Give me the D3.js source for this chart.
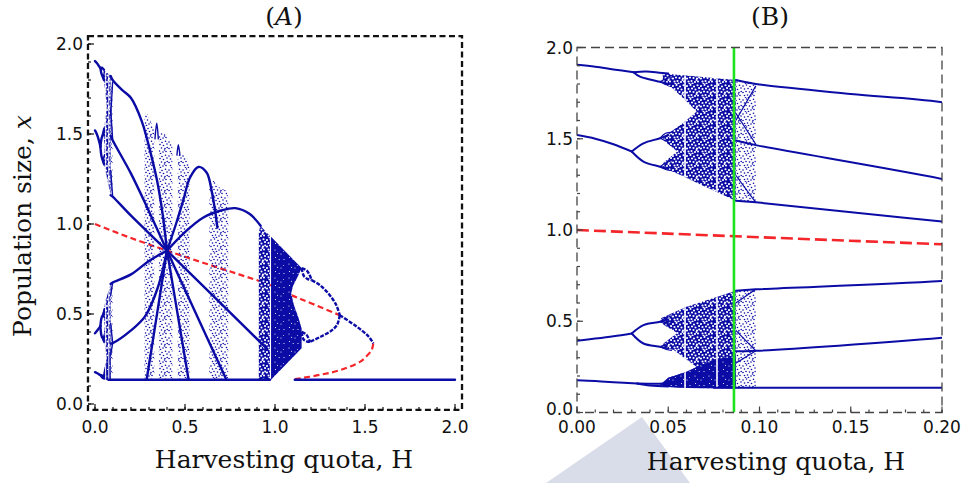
<!DOCTYPE html>
<html>
<head>
<meta charset="utf-8">
<script src="https://cdn.jsdelivr.net/npm/d3@7"></script>
<style>
  body { margin: 0; background: #fff; }
</style>
</head>
<body>
<svg id="chart" width="962" height="483"></svg>
<script>
// ---- data: [H, x] pairs ----

// period-4 branches before the first doubling, and their doublings
const p4Top = [[0, 1.905], [0.01, 1.895], [0.02, 1.88], [0.031, 1.865]];
const p4TopUp = [[0.031, 1.865], [0.038, 1.868], [0.045, 1.862], [0.05, 1.857]];
const p4TopDn = [[0.031, 1.865], [0.0345, 1.84], [0.04, 1.825], [0.0455, 1.812], [0.05, 1.80]];
const p4Mid = [[0, 1.52], [0.01, 1.50], [0.02, 1.47], [0.03, 1.43]];
const p4MidUp = [[0.03, 1.43], [0.0364, 1.475], [0.0455, 1.503], [0.05, 1.52]];
const p4MidDn = [[0.03, 1.43], [0.0364, 1.375], [0.0455, 1.347], [0.05, 1.335]];
const p4Low = [[0, 0.393], [0.01, 0.405], [0.02, 0.418], [0.03, 0.433]];
const p4LowUp = [[0.03, 0.433], [0.0364, 0.479], [0.0455, 0.497], [0.05, 0.51]];
const p4LowDn = [[0.03, 0.433], [0.0364, 0.378], [0.0455, 0.36], [0.05, 0.35]];
const p4Bot = [[0, 0.177], [0.01, 0.172], [0.02, 0.166], [0.033, 0.159]];
const p4BotUp = [[0.033, 0.159], [0.045, 0.158], [0.05, 0.16]];
const p4BotDn = [[0.033, 0.159], [0.04, 0.148], [0.05, 0.142]];

// second doublings (small eyes near H = 0.045)
const pd2Loops = [
  [[0.0455, 1.812], [0.049, 1.83], [0.052, 1.835]], [[0.0455, 1.812], [0.049, 1.80], [0.052, 1.795]],
  [[0.0455, 1.503], [0.0485, 1.53], [0.052, 1.535]], [[0.0455, 1.503], [0.049, 1.49], [0.052, 1.50]],
  [[0.0455, 1.347], [0.049, 1.37], [0.052, 1.38]], [[0.0455, 1.347], [0.049, 1.33], [0.052, 1.325]],
  [[0.0455, 0.497], [0.049, 0.52], [0.052, 0.53]], [[0.0455, 0.497], [0.049, 0.485], [0.052, 0.49]],
  [[0.0455, 0.36], [0.049, 0.375], [0.052, 0.385]], [[0.0455, 0.36], [0.049, 0.345], [0.052, 0.34]]
];

// period-6 window, all branches meeting at H = 0.4
const p6a = [[0.087, 1.822], [0.098, 1.80], [0.15, 1.745], [0.2, 1.70], [0.26, 1.57], [0.315, 1.37], [0.345, 1.24], [0.375, 1.06], [0.4, 0.852]];
const p6b = [[0.087, 1.49], [0.098, 1.465], [0.2, 1.28], [0.3, 1.07], [0.4, 0.852]];
const p6c = [[0.087, 1.16], [0.098, 1.152], [0.2, 1.046], [0.4, 0.852], [0.954, 0.308]];
const p6d = [[0.087, 0.667], [0.098, 0.675], [0.2, 0.72], [0.3, 0.795], [0.4, 0.852]];
const p6e = [[0.087, 0.335], [0.098, 0.338], [0.2, 0.409], [0.28, 0.49], [0.35, 0.65], [0.4, 0.852]];
const floorLeft = [[0.075, 0.135], [0.972, 0.135]];
const floorRight = [[1.11, 0.135], [2.0, 0.135]];

// branches leaving the crossing at H = 0.4
const arcMid = [[0.4, 0.852], [0.45, 1.0], [0.49, 1.13], [0.528, 1.258], [0.574, 1.317], [0.62, 1.286], [0.648, 1.184], [0.667, 1.074], [0.68, 0.98]];
const arcLow = [[0.4, 0.852], [0.5, 0.955], [0.6, 1.035], [0.7, 1.075], [0.78, 1.088], [0.86, 1.055], [0.92, 0.99]];
const rayIn = [[0.287, 0.135], [0.4, 0.852]];
const rayOut1 = [[0.4, 0.852], [0.52, 0.135]];
const rayOut2 = [[0.4, 0.852], [0.73, 0.135]];
const spikes = [
  [[0.333, 1.47], [0.343, 1.56], [0.352, 1.47]],
  [[0.455, 1.38], [0.463, 1.44], [0.472, 1.38]]
];

// lines inside the sparse strip after the window opens
const ghostLines = [
  [[0.087, 1.60], [0.098, 1.79]], [[0.087, 1.64], [0.098, 1.47]], [[0.087, 1.30], [0.098, 1.15]],
  [[0.087, 0.60], [0.098, 0.675]], [[0.087, 0.27], [0.098, 0.338]], [[0.087, 0.45], [0.098, 0.338]]
];

// fixed point and the reversed doubling cascade on the right
const fixedUnstable = [[0, 1.0], [0.2, 0.922], [0.4, 0.852], [0.6, 0.785], [0.8, 0.72], [0.954, 0.668], [1.092, 0.604], [1.2, 0.56], [1.36, 0.493]];
const fixedStable = [[1.36, 0.493], [1.454, 0.43], [1.52, 0.375], [1.546, 0.337]];
const foldUnstable = [[1.546, 0.337], [1.537, 0.30], [1.505, 0.262], [1.472, 0.234], [1.361, 0.188], [1.25, 0.162], [1.111, 0.138]];
const p2Upper = [[1.204, 0.688], [1.25, 0.66], [1.30, 0.61], [1.34, 0.55], [1.36, 0.493]];
const p2Lower = [[1.36, 0.493], [1.345, 0.44], [1.31, 0.405], [1.25, 0.372], [1.194, 0.345]];
const p4Loops = [
  [[1.148, 0.755], [1.178, 0.74], [1.204, 0.688]],
  [[1.148, 0.755], [1.16, 0.712], [1.18, 0.695], [1.204, 0.688]],
  [[1.148, 0.40], [1.175, 0.385], [1.194, 0.345]],
  [[1.148, 0.40], [1.158, 0.36], [1.175, 0.348], [1.194, 0.345]]
];

// chaotic regions (outlines)
const chaosUpper = [[0.047, 1.858], [0.06, 1.846], [0.075, 1.833], [0.087, 1.822],
  [0.087, 1.16], [0.075, 1.215], [0.065, 1.262], [0.057, 1.30], [0.05, 1.33], [0.047, 1.345],
  [0.0475, 1.37], [0.055, 1.43], [0.0475, 1.49], [0.047, 1.51],
  [0.051, 1.535], [0.058, 1.585], [0.0656, 1.65], [0.058, 1.725], [0.052, 1.78], [0.047, 1.80]];
const chaosLower = [[0.046, 0.516], [0.06, 0.579], [0.077, 0.634], [0.087, 0.667],
  [0.087, 0.132], [0.06, 0.134], [0.05, 0.14], [0.045, 0.146],
  [0.05, 0.19], [0.06, 0.223], [0.0656, 0.25], [0.06, 0.29], [0.053, 0.342], [0.047, 0.36],
  [0.0475, 0.38], [0.055, 0.435], [0.0475, 0.48]];
const chaosLowerCore = [[0.045, 0.146], [0.05, 0.19], [0.06, 0.223], [0.0656, 0.25], [0.075, 0.29],
  [0.087, 0.31], [0.087, 0.132], [0.06, 0.134], [0.05, 0.14]];
const chaosUpperTail = [[0.087, 1.822], [0.098, 1.808], [0.098, 1.15], [0.087, 1.16]];
const chaosLowerTail = [[0.087, 0.667], [0.098, 0.675], [0.098, 0.132], [0.087, 0.132]];
const chaosRightA = [[0.91, 0.135], [0.91, 0.95], [0.918, 0.99], [0.972, 0.935], [0.972, 0.135]];
const chaosRightB = [[0.978, 0.929], [1.148, 0.755], [1.13, 0.715], [1.10, 0.655], [1.09, 0.615],
  [1.105, 0.55], [1.13, 0.48], [1.148, 0.42], [1.148, 0.31], [0.978, 0.135]];
const band1 = [[0.275, 0.135], [0.275, 1.60], [0.283, 1.625], [0.30, 1.59], [0.33, 1.52], [0.33, 0.135]];
const band2 = [[0.355, 0.135], [0.355, 1.50], [0.38, 1.51], [0.41, 1.47], [0.43, 1.44], [0.43, 0.135]];
const band3 = [[0.46, 0.135], [0.46, 1.40], [0.48, 1.40], [0.51, 1.37], [0.525, 1.33], [0.525, 0.135]];
const band4 = [[0.635, 0.135], [0.635, 1.20], [0.657, 1.245], [0.694, 1.20], [0.73, 1.185], [0.74, 1.15], [0.74, 0.135]];
const windowsH = [0.0592, 0.0767];

const greenH = 0.086;

const ticksA = [0, 0.5, 1, 1.5, 2];
const ticksBx = [0, 0.05, 0.1, 0.15, 0.2];
const ticksBy = [0, 0.5, 1, 1.5, 2];

// ---- drawing ----
const blue = '#0b0ba5';
const red = '#f4262a';
const svg = d3.select('#chart');
const defs = svg.append('defs');

// scattered speck positions inside one 14px tile
const speck = [[1, 2], [4.5, 1], [8, 2.5], [11.5, 1.2], [2.5, 5], [6, 4.5], [9.5, 5.5], [13, 4],
  [1, 8.5], [4, 7.5], [7.5, 8], [11, 8.5], [13.2, 7.5], [2.5, 11.5], [5.5, 11], [9, 12],
  [12, 11.5], [6.5, 13.5], [3.5, 13.8], [10.5, 10]];

function makePattern(id, size, bg, dots, r, color) {
  const pat = defs.append('pattern')
    .attr('id', id)
    .attr('patternUnits', 'userSpaceOnUse')
    .attr('width', size)
    .attr('height', size);
  if (bg) pat.append('rect').attr('width', size).attr('height', size).attr('fill', bg);
  pat.selectAll('circle').data(dots).join('circle')
    .attr('cx', d => d[0]).attr('cy', d => d[1]).attr('r', r).attr('fill', color);
}
makePattern('sparse', 14, null, speck, 0.8, blue);
makePattern('medium', 14, blue, speck, 1.05, '#fff');
makePattern('dense', 14, blue, speck.filter((d, i) => i % 3 === 0), 0.55, '#fff');

// faint watermark shape behind panel B
svg.append('path')
  .attr('d', 'M642,417 L546,483 L690,483 Z')
  .attr('fill', '#d9dde9');

const regions = [
  [chaosUpper, 'medium'], [chaosLower, 'medium'], [chaosLowerCore, 'dense'],
  [chaosUpperTail, 'sparse'], [chaosLowerTail, 'sparse'],
  [chaosRightA, 'medium'], [chaosRightB, 'dense'],
  [band1, 'sparse'], [band2, 'sparse'], [band3, 'sparse'], [band4, 'sparse']
];

const mainLines = [p4Top, p4TopUp, p4TopDn, p4Mid, p4MidUp, p4MidDn, p4Low, p4LowUp, p4LowDn,
  p4Bot, p4BotUp, p4BotDn, p6a, p6b, p6c, p6d, p6e, floorLeft, floorRight,
  arcMid, arcLow, rayIn, rayOut1, rayOut2];

function drawPanel(p) {
  const { x, y, id } = p;
  const fx0 = x(p.xFrame[0]), fx1 = x(p.xFrame[1]);
  const fy0 = y(p.yFrame[1]), fy1 = y(p.yFrame[0]);

  defs.append('clipPath').attr('id', 'clip' + id)
    .append('rect').attr('x', fx0).attr('y', fy0).attr('width', fx1 - fx0).attr('height', fy1 - fy0);

  const curve = d3.line().x(d => x(d[0])).y(d => y(d[1])).curve(d3.curveCatmullRom);
  const outline = d3.line().x(d => x(d[0])).y(d => y(d[1])).curve(d3.curveLinearClosed);

  const plot = svg.append('g').attr('clip-path', `url(#clip${id})`);

  // unstable fixed point under everything
  [fixedUnstable, foldUnstable].forEach(pts => {
    plot.append('path').attr('d', curve(pts))
      .attr('fill', 'none').attr('stroke', red)
      .attr('stroke-width', p.redWidth).attr('stroke-dasharray', p.redDash);
  });

  // chaotic regions
  regions.forEach(([pts, fill]) => {
    plot.append('path').attr('d', outline(pts)).attr('fill', `url(#${fill})`);
  });

  // periodic windows cut through the chaos
  const winClip = defs.append('clipPath').attr('id', 'win' + id);
  [chaosUpper, chaosLower].forEach(pts => winClip.append('path').attr('d', outline(pts)));
  plot.append('g').attr('clip-path', `url(#win${id})`)
    .selectAll('line').data(windowsH).join('line')
    .attr('x1', d => x(d)).attr('x2', d => x(d))
    .attr('y1', fy0).attr('y2', fy1)
    .attr('stroke', '#fff').attr('stroke-width', p.winWidth);

  // periodic branches
  mainLines.forEach(pts => {
    plot.append('path').attr('d', curve(pts))
      .attr('fill', 'none').attr('stroke', blue)
      .attr('stroke-width', p.lineWidth).attr('stroke-linecap', 'round');
  });
  pd2Loops.concat(ghostLines, spikes).forEach(pts => {
    plot.append('path').attr('d', curve(pts))
      .attr('fill', 'none').attr('stroke', blue).attr('stroke-width', p.thinWidth);
  });
  [fixedStable, p2Upper, p2Lower].concat(p4Loops).forEach(pts => {
    plot.append('path').attr('d', curve(pts))
      .attr('fill', 'none').attr('stroke', blue)
      .attr('stroke-width', p.lineWidth).attr('stroke-dasharray', '4,1.4');
  });

  if (p.green) {
    plot.append('line')
      .attr('x1', x(greenH)).attr('x2', x(greenH))
      .attr('y1', fy0).attr('y2', fy1)
      .attr('stroke', '#1fe21f').attr('stroke-width', 2.6);
  }

  // frame
  svg.append('rect')
    .attr('x', fx0).attr('y', fy0).attr('width', fx1 - fx0).attr('height', fy1 - fy0)
    .attr('fill', 'none').attr('stroke', p.frameColor)
    .attr('stroke-width', p.frameWidth).attr('stroke-dasharray', p.frameDash);

  // ticks
  const tg = svg.append('g').attr('stroke', p.frameColor).attr('stroke-width', 1.2);
  tg.selectAll('.mx').data(p.minorX).join('line')
    .attr('x1', d => x(d)).attr('x2', d => x(d)).attr('y1', fy1).attr('y2', fy1 - 3);
  tg.selectAll('.Mx').data(p.ticksX).join('line')
    .attr('x1', d => x(d)).attr('x2', d => x(d)).attr('y1', fy1).attr('y2', fy1 - 6);
  tg.selectAll('.my').data(p.minorY).join('line')
    .attr('y1', d => y(d)).attr('y2', d => y(d)).attr('x1', fx0).attr('x2', fx0 + 3);
  tg.selectAll('.My').data(p.ticksY).join('line')
    .attr('y1', d => y(d)).attr('y2', d => y(d)).attr('x1', fx0).attr('x2', fx0 + 6);

  const lab = svg.append('g')
    .attr('font-family', 'DejaVu Sans, sans-serif').attr('font-size', 17).attr('fill', '#111');
  lab.selectAll('.xl').data(p.ticksX).join('text')
    .attr('x', d => x(d)).attr('y', 433).attr('text-anchor', 'middle')
    .text(d3.format(p.xFmt));
  lab.selectAll('.yl').data(p.ticksY).join('text')
    .attr('x', p.yLabelX).attr('y', d => y(d) + (d === 0 ? p.zeroShift : 6)).attr('text-anchor', 'end')
    .text(d3.format('.1f'));

  svg.append('text')
    .attr('x', p.titleX).attr('y', p.xTitleY).attr('text-anchor', 'middle')
    .attr('font-family', 'DejaVu Serif, serif').attr('font-size', 25).attr('fill', '#111')
    .text('Harvesting quota, H');

  const head = svg.append('text')
    .attr('x', p.headX).attr('y', 25).attr('text-anchor', 'middle')
    .attr('font-family', 'DejaVu Serif, serif').attr('font-size', 25).attr('fill', '#111');
  head.append('tspan').text('(');
  head.append('tspan').attr('font-style', p.headItalic ? 'italic' : 'normal').text(p.head);
  head.append('tspan').text(')');
}

const xA = d3.scaleLinear().domain([0, 2]).range([95, 455]);
const yA = d3.scaleLinear().domain([0, 2]).range([404, 44]);
drawPanel({
  id: 'A', x: xA, y: yA,
  xFrame: [-0.039, 2.039], yFrame: [-0.033, 2.044],
  lineWidth: 2.4, thinWidth: 1.4, redWidth: 2.2, redDash: '6,3.5', winWidth: 1,
  frameColor: '#111', frameWidth: 2.3, frameDash: '6,3.5',
  ticksX: ticksA, ticksY: ticksA,
  minorX: d3.range(0, 2.001, 0.1), minorY: d3.range(0, 2.001, 0.1),
  xFmt: '.1f', yLabelX: 83, zeroShift: 6, titleX: 284, xTitleY: 468,
  headX: 284, head: 'A', headItalic: true, green: false
});

const xB = d3.scaleLinear().domain([0, 0.2]).range([577, 942]);
const yB = d3.scaleLinear().domain([0, 2]).range([412.5, 47.5]);
drawPanel({
  id: 'B', x: xB, y: yB,
  xFrame: [0, 0.2], yFrame: [0, 2],
  lineWidth: 2, thinWidth: 1.2, redWidth: 2.6, redDash: '12,5', winWidth: 1.6,
  frameColor: '#444', frameWidth: 1.3, frameDash: '9,5',
  ticksX: ticksBx, ticksY: ticksBy,
  minorX: d3.range(0, 0.2001, 0.01), minorY: d3.range(0, 2.001, 0.1),
  xFmt: '.2f', yLabelX: 573, zeroShift: 2, titleX: 776, xTitleY: 470,
  headX: 770, head: 'B', headItalic: false, green: true
});

// shared y title
const yt = svg.append('text')
  .attr('transform', 'translate(31,226) rotate(-90)')
  .attr('text-anchor', 'middle')
  .attr('font-family', 'DejaVu Serif, serif').attr('font-size', 25).attr('fill', '#111');
yt.append('tspan').text('Population size, ');
yt.append('tspan').attr('font-style', 'italic').text('x');
</script>
</body>
</html>
